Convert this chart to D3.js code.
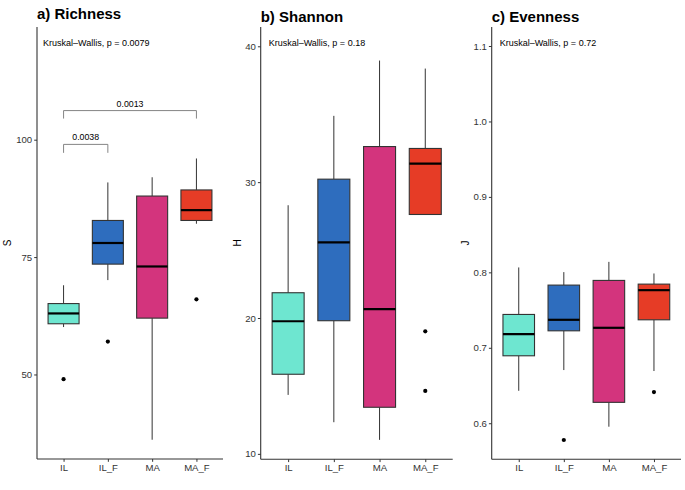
<!DOCTYPE html>
<html>
<head>
<meta charset="utf-8">
<script src="https://cdn.jsdelivr.net/npm/d3@7/dist/d3.min.js"></script>
<style>
  html, body { margin: 0; padding: 0; background: #fff; }
  svg { display: block; font-family: "Liberation Sans", Arial, Helvetica, sans-serif; }
</style>
</head>
<body>
<svg id="chart" width="685" height="490"></svg>
<script>
// ---------- data ----------
const categories = ["IL", "IL_F", "MA", "MA_F"];
const fillColors = ["#6EE6D0", "#2E6DBE", "#D3347D", "#E63C26"];

// Richness (S)
const richWhiskerLow  = [60.1, 70.1, 36.1, 82.1];
const richQ1          = [60.8, 73.5, 62.0, 82.8];
const richMedian      = [63.0, 78.0, 73.0, 85.0];
const richQ3          = [65.1, 82.8, 88.0, 89.3];
const richWhiskerHigh = [69.0, 90.9, 92.0, 96.0];
const richOutliers    = [[49.0], [57.0], [], [66.0]];
const richTicks       = [50, 75, 100];

// Shannon (H)
const shanWhiskerLow  = [14.34, 12.33, 11.03, 27.62];
const shanQ1          = [15.86, 19.80, 13.43, 27.62];
const shanMedian      = [19.76, 25.57, 20.66, 31.37];
const shanQ3          = [21.86, 30.22, 32.62, 32.48];
const shanWhiskerHigh = [28.30, 34.88, 38.95, 38.36];
const shanOutliers    = [[], [], [], [19.02, 14.63]];
const shanTicks       = [10, 20, 30, 40];

// Evenness (J)
const evenWhiskerLow  = [0.643, 0.6705, 0.5954, 0.6692];
const evenQ1          = [0.6894, 0.7225, 0.6277, 0.7371];
const evenMedian      = [0.7181, 0.7371, 0.7265, 0.7764];
const evenQ3          = [0.7442, 0.7831, 0.7893, 0.7844];
const evenWhiskerHigh = [0.8065, 0.8003, 0.8139, 0.7985];
const evenOutliers    = [[], [0.5778], [], [0.6413]];
const evenTicks       = [0.6, 0.7, 0.8, 0.9, 1.0, 1.1];

// pairwise comparison brackets (Richness)
const richBrackets = [
  { from: "IL", to: "IL_F", y: 99.0, tip: 97.2, label: "0.0038" },
  { from: "IL", to: "MA_F", y: 106.2, tip: 104.5, label: "0.0013" }
];

const titles = ["a) Richness", "b) Shannon", "c) Evenness"];
const yLabels = ["S", "H", "J"];
const kwLabels = ["Kruskal\u2013Wallis, p = 0.0079", "Kruskal\u2013Wallis, p = 0.18", "Kruskal\u2013Wallis, p = 0.72"];

// ---------- layout ----------
const panels = [
  { left: 37,    right: 223,   top: 27, bottom: 459,   domain: [32, 124],        ticks: richTicks, fmt: d3.format("d"),
    low: richWhiskerLow, q1: richQ1, med: richMedian, q3: richQ3, high: richWhiskerHigh, out: richOutliers,
    titleY: 18.8, kwDx: 6, yLabX: 11, brackets: richBrackets },
  { left: 260.7, right: 452.7, top: 27, bottom: 459.3, domain: [9.6, 41.42],     ticks: shanTicks, fmt: d3.format("d"),
    low: shanWhiskerLow, q1: shanQ1, med: shanMedian, q3: shanQ3, high: shanWhiskerHigh, out: shanOutliers,
    titleY: 21.5, kwDx: 8, yLabX: 241, brackets: [] },
  { left: 491.7, right: 681,   top: 27, bottom: 459.3, domain: [0.5522, 1.1252], ticks: evenTicks, fmt: d3.format(".1f"),
    low: evenWhiskerLow, q1: evenQ1, med: evenMedian, q3: evenQ3, high: evenWhiskerHigh, out: evenOutliers,
    titleY: 22.2, kwDx: 8, yLabX: 469, brackets: [] }
];

const svg = d3.select("#chart");

panels.forEach((p, pi) => {
  const g = svg.append("g");
  const x = d3.scalePoint().domain(categories).range([p.left, p.right]).padding(0.6);
  const y = d3.scaleLinear().domain(p.domain).range([p.bottom, p.top]);
  const bw = x.step() * 0.7;

  // whiskers
  categories.forEach((c, i) => {
    g.append("line").attr("x1", x(c)).attr("x2", x(c))
      .attr("y1", y(p.q3[i])).attr("y2", y(p.high[i]))
      .attr("stroke", "#333").attr("stroke-width", 1);
    g.append("line").attr("x1", x(c)).attr("x2", x(c))
      .attr("y1", y(p.q1[i])).attr("y2", y(p.low[i]))
      .attr("stroke", "#333").attr("stroke-width", 1);
  });
  // boxes
  categories.forEach((c, i) => {
    g.append("rect")
      .attr("x", x(c) - bw / 2).attr("width", bw)
      .attr("y", y(p.q3[i])).attr("height", y(p.q1[i]) - y(p.q3[i]))
      .attr("fill", fillColors[i]).attr("stroke", "#333").attr("stroke-width", 1.1);
    g.append("line")
      .attr("x1", x(c) - bw / 2).attr("x2", x(c) + bw / 2)
      .attr("y1", y(p.med[i])).attr("y2", y(p.med[i]))
      .attr("stroke", "#000").attr("stroke-width", 2.2);
    p.out[i].forEach(v => {
      g.append("circle").attr("cx", x(c)).attr("cy", y(v)).attr("r", 2.1).attr("fill", "#000");
    });
  });

  // axes
  const yAxis = g.append("g").attr("transform", `translate(${p.left},0)`)
    .call(d3.axisLeft(y).tickValues(p.ticks).tickFormat(p.fmt).tickSize(2.8).tickPadding(2));
  yAxis.select(".domain").attr("d", `M0,${p.top}V${p.bottom}`).attr("stroke", "#333").attr("stroke-width", 1.1);
  yAxis.selectAll(".tick line").attr("stroke", "#333").attr("stroke-width", 1);
  yAxis.selectAll(".tick text").attr("fill", "#333").style("font-size", "9.6px").style("font-family", "Liberation Sans, Arial, sans-serif");

  const xAxis = g.append("g").attr("transform", `translate(0,${p.bottom})`)
    .call(d3.axisBottom(x).tickSize(2.8).tickPadding(2));
  xAxis.select(".domain").attr("d", `M${p.left},0H${p.right}`).attr("stroke", "#333").attr("stroke-width", 1.1);
  xAxis.selectAll(".tick line").attr("stroke", "#333").attr("stroke-width", 1);
  xAxis.selectAll(".tick text").attr("fill", "#333").style("font-size", "9.6px").style("font-family", "Liberation Sans, Arial, sans-serif");

  // y label
  g.append("text")
    .attr("transform", `translate(${p.yLabX},243) rotate(-90)`)
    .attr("text-anchor", "middle").attr("font-size", "10px").attr("fill", "#000")
    .text(yLabels[pi]);

  // title
  g.append("text").attr("x", p.left).attr("y", p.titleY)
    .attr("font-size", "15px").attr("font-weight", "bold").attr("fill", "#000")
    .text(titles[pi]);

  // Kruskal-Wallis label
  g.append("text").attr("x", p.left + p.kwDx).attr("y", 45.5)
    .attr("font-size", "9px").attr("fill", "#000")
    .text(kwLabels[pi]);

  // brackets
  p.brackets.forEach(b => {
    const x1 = x(b.from), x2 = x(b.to);
    g.append("path")
      .attr("d", `M${x1},${y(b.tip)}V${y(b.y)}H${x2}V${y(b.tip)}`)
      .attr("fill", "none").attr("stroke", "#777").attr("stroke-width", 0.9);
    g.append("text").attr("x", (x1 + x2) / 2).attr("y", y(b.y) - 4)
      .attr("text-anchor", "middle").attr("font-size", "8.8px").attr("fill", "#000")
      .text(b.label);
  });
});
</script>
</body>
</html>
